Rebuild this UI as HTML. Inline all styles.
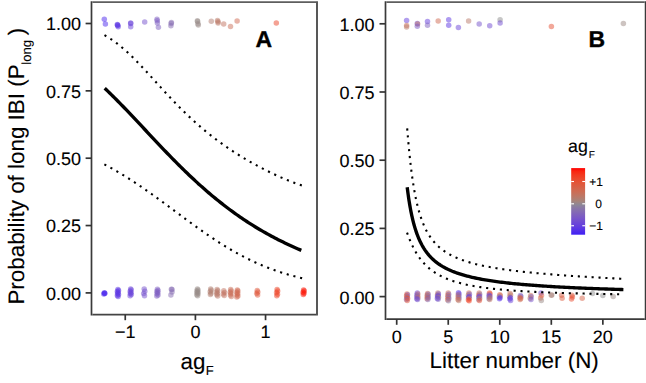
<!DOCTYPE html>
<html><head><meta charset="utf-8"><style>
html,body{margin:0;padding:0;background:#fff;width:646px;height:383px;overflow:hidden;position:relative;font-family:"Liberation Sans",sans-serif;}
svg text{font-family:"Liberation Sans",sans-serif;text-rendering:geometricPrecision;}
</style></head><body>
<svg width="646" height="383" viewBox="0 0 646 383" style="position:absolute;left:0;top:0">
<rect width="646" height="383" fill="#fff"/>
<circle cx="104.3" cy="19.3" r="2.75" fill="#4b28ee" fill-opacity="0.50"/>
<circle cx="105.4" cy="24.1" r="2.75" fill="#4c29ed" fill-opacity="0.50"/>
<circle cx="117.3" cy="24.4" r="2.75" fill="#5c36e4" fill-opacity="0.50"/>
<circle cx="118.2" cy="26.7" r="2.75" fill="#5d37e3" fill-opacity="0.50"/>
<circle cx="117.6" cy="25.5" r="2.75" fill="#5c37e4" fill-opacity="0.50"/>
<circle cx="130.7" cy="23.0" r="2.75" fill="#6a44d9" fill-opacity="0.50"/>
<circle cx="130.7" cy="26.7" r="2.75" fill="#6a44d9" fill-opacity="0.50"/>
<circle cx="144.7" cy="21.9" r="2.75" fill="#7551cd" fill-opacity="0.50"/>
<circle cx="157.0" cy="19.3" r="2.75" fill="#7d5dc1" fill-opacity="0.50"/>
<circle cx="157.4" cy="23.0" r="2.75" fill="#7d5ec1" fill-opacity="0.50"/>
<circle cx="158.4" cy="27.2" r="2.75" fill="#7e5fc0" fill-opacity="0.50"/>
<circle cx="171.4" cy="22.5" r="2.75" fill="#856cb2" fill-opacity="0.50"/>
<circle cx="170.9" cy="25.8" r="2.75" fill="#856cb3" fill-opacity="0.50"/>
<circle cx="197.4" cy="20.7" r="2.75" fill="#978b88" fill-opacity="0.50"/>
<circle cx="198.3" cy="24.9" r="2.75" fill="#998a86" fill-opacity="0.50"/>
<circle cx="211.3" cy="21.3" r="2.75" fill="#b27e71" fill-opacity="0.50"/>
<circle cx="217.5" cy="20.4" r="2.75" fill="#bb7968" fill-opacity="0.50"/>
<circle cx="218.1" cy="23.0" r="2.75" fill="#bb7968" fill-opacity="0.50"/>
<circle cx="223.7" cy="24.1" r="2.75" fill="#c27461" fill-opacity="0.50"/>
<circle cx="230.5" cy="26.5" r="2.75" fill="#c96f59" fill-opacity="0.50"/>
<circle cx="237.1" cy="21.0" r="2.75" fill="#cf6a52" fill-opacity="0.50"/>
<circle cx="276.3" cy="23.1" r="2.75" fill="#ec462a" fill-opacity="0.50"/>
<circle cx="157.2" cy="20.8" r="2.75" fill="#7d5ec1" fill-opacity="0.50"/>
<circle cx="171.2" cy="23.6" r="2.75" fill="#856cb2" fill-opacity="0.50"/>
<circle cx="197.6" cy="21.6" r="2.75" fill="#978b87" fill-opacity="0.50"/>
<circle cx="197.9" cy="23.8" r="2.75" fill="#988a87" fill-opacity="0.50"/>
<circle cx="117.7" cy="25.0" r="2.75" fill="#5d37e4" fill-opacity="0.50"/>
<circle cx="130.7" cy="23.5" r="2.75" fill="#6a44d9" fill-opacity="0.50"/>
<circle cx="218.0" cy="21.8" r="2.75" fill="#bb7968" fill-opacity="0.50"/>
<circle cx="104.3" cy="292.7" r="2.75" fill="#4b28ee" fill-opacity="0.50"/>
<circle cx="104.8" cy="293.3" r="2.75" fill="#4b28ee" fill-opacity="0.50"/>
<circle cx="103.8" cy="293.9" r="2.75" fill="#4b28ee" fill-opacity="0.50"/>
<circle cx="117.9" cy="289.6" r="2.75" fill="#5d37e3" fill-opacity="0.50"/>
<circle cx="118.5" cy="290.6" r="2.75" fill="#5d37e3" fill-opacity="0.50"/>
<circle cx="117.4" cy="291.5" r="2.75" fill="#5d37e3" fill-opacity="0.50"/>
<circle cx="118.2" cy="292.5" r="2.75" fill="#5d37e3" fill-opacity="0.50"/>
<circle cx="117.6" cy="293.5" r="2.75" fill="#5d37e3" fill-opacity="0.50"/>
<circle cx="118.5" cy="294.4" r="2.75" fill="#5d37e3" fill-opacity="0.50"/>
<circle cx="117.4" cy="295.4" r="2.75" fill="#5d37e3" fill-opacity="0.50"/>
<circle cx="118.1" cy="296.4" r="2.75" fill="#5d37e3" fill-opacity="0.50"/>
<circle cx="130.7" cy="288.9" r="2.75" fill="#6a44d9" fill-opacity="0.50"/>
<circle cx="131.2" cy="290.0" r="2.75" fill="#6a44d9" fill-opacity="0.50"/>
<circle cx="130.2" cy="291.2" r="2.75" fill="#6a44d9" fill-opacity="0.50"/>
<circle cx="131.0" cy="292.4" r="2.75" fill="#6a44d9" fill-opacity="0.50"/>
<circle cx="130.4" cy="293.5" r="2.75" fill="#6a44d9" fill-opacity="0.50"/>
<circle cx="131.3" cy="294.6" r="2.75" fill="#6a44d9" fill-opacity="0.50"/>
<circle cx="130.1" cy="295.8" r="2.75" fill="#6a44d9" fill-opacity="0.50"/>
<circle cx="144.2" cy="288.9" r="2.75" fill="#7551cd" fill-opacity="0.50"/>
<circle cx="144.8" cy="291.2" r="2.75" fill="#7551cd" fill-opacity="0.50"/>
<circle cx="143.7" cy="293.5" r="2.75" fill="#7551cd" fill-opacity="0.50"/>
<circle cx="144.5" cy="295.8" r="2.75" fill="#7551cd" fill-opacity="0.50"/>
<circle cx="157.4" cy="289.2" r="2.75" fill="#7d5ec1" fill-opacity="0.50"/>
<circle cx="158.0" cy="290.4" r="2.75" fill="#7d5ec1" fill-opacity="0.50"/>
<circle cx="156.9" cy="291.5" r="2.75" fill="#7d5ec1" fill-opacity="0.50"/>
<circle cx="157.8" cy="292.6" r="2.75" fill="#7d5ec1" fill-opacity="0.50"/>
<circle cx="157.1" cy="293.8" r="2.75" fill="#7d5ec1" fill-opacity="0.50"/>
<circle cx="158.0" cy="295.0" r="2.75" fill="#7d5ec1" fill-opacity="0.50"/>
<circle cx="156.8" cy="296.1" r="2.75" fill="#7d5ec1" fill-opacity="0.50"/>
<circle cx="171.4" cy="289.2" r="2.75" fill="#856cb2" fill-opacity="0.50"/>
<circle cx="172.0" cy="292.1" r="2.75" fill="#856cb2" fill-opacity="0.50"/>
<circle cx="170.9" cy="294.9" r="2.75" fill="#856cb2" fill-opacity="0.50"/>
<circle cx="197.4" cy="288.9" r="2.75" fill="#978b88" fill-opacity="0.50"/>
<circle cx="198.0" cy="289.9" r="2.75" fill="#978b88" fill-opacity="0.50"/>
<circle cx="196.9" cy="290.9" r="2.75" fill="#978b88" fill-opacity="0.50"/>
<circle cx="197.8" cy="291.9" r="2.75" fill="#978b88" fill-opacity="0.50"/>
<circle cx="197.1" cy="292.8" r="2.75" fill="#978b88" fill-opacity="0.50"/>
<circle cx="198.0" cy="293.8" r="2.75" fill="#978b88" fill-opacity="0.50"/>
<circle cx="196.8" cy="294.8" r="2.75" fill="#978b88" fill-opacity="0.50"/>
<circle cx="197.6" cy="295.8" r="2.75" fill="#978b88" fill-opacity="0.50"/>
<circle cx="210.7" cy="288.9" r="2.75" fill="#b17f71" fill-opacity="0.50"/>
<circle cx="211.2" cy="290.3" r="2.75" fill="#b17f71" fill-opacity="0.50"/>
<circle cx="210.2" cy="291.8" r="2.75" fill="#b17f71" fill-opacity="0.50"/>
<circle cx="211.0" cy="293.2" r="2.75" fill="#b17f71" fill-opacity="0.50"/>
<circle cx="210.4" cy="294.6" r="2.75" fill="#b17f71" fill-opacity="0.50"/>
<circle cx="217.1" cy="289.5" r="2.75" fill="#ba7a69" fill-opacity="0.50"/>
<circle cx="217.7" cy="290.8" r="2.75" fill="#ba7a69" fill-opacity="0.50"/>
<circle cx="216.6" cy="292.1" r="2.75" fill="#ba7a69" fill-opacity="0.50"/>
<circle cx="217.4" cy="293.5" r="2.75" fill="#ba7a69" fill-opacity="0.50"/>
<circle cx="216.8" cy="294.8" r="2.75" fill="#ba7a69" fill-opacity="0.50"/>
<circle cx="217.7" cy="296.1" r="2.75" fill="#ba7a69" fill-opacity="0.50"/>
<circle cx="223.8" cy="290.8" r="2.75" fill="#c27461" fill-opacity="0.50"/>
<circle cx="224.4" cy="292.4" r="2.75" fill="#c27461" fill-opacity="0.50"/>
<circle cx="223.3" cy="293.9" r="2.75" fill="#c27461" fill-opacity="0.50"/>
<circle cx="224.2" cy="295.5" r="2.75" fill="#c27461" fill-opacity="0.50"/>
<circle cx="230.7" cy="289.5" r="2.75" fill="#c96f59" fill-opacity="0.50"/>
<circle cx="231.2" cy="290.9" r="2.75" fill="#c96f59" fill-opacity="0.50"/>
<circle cx="230.2" cy="292.3" r="2.75" fill="#c96f59" fill-opacity="0.50"/>
<circle cx="231.0" cy="293.6" r="2.75" fill="#c96f59" fill-opacity="0.50"/>
<circle cx="230.4" cy="295.0" r="2.75" fill="#c96f59" fill-opacity="0.50"/>
<circle cx="231.3" cy="296.4" r="2.75" fill="#c96f59" fill-opacity="0.50"/>
<circle cx="237.3" cy="289.9" r="2.75" fill="#cf6a52" fill-opacity="0.50"/>
<circle cx="237.9" cy="291.1" r="2.75" fill="#cf6a52" fill-opacity="0.50"/>
<circle cx="236.8" cy="292.3" r="2.75" fill="#cf6a52" fill-opacity="0.50"/>
<circle cx="237.7" cy="293.5" r="2.75" fill="#cf6a52" fill-opacity="0.50"/>
<circle cx="237.0" cy="294.7" r="2.75" fill="#cf6a52" fill-opacity="0.50"/>
<circle cx="237.9" cy="295.9" r="2.75" fill="#cf6a52" fill-opacity="0.50"/>
<circle cx="236.8" cy="297.1" r="2.75" fill="#cf6a52" fill-opacity="0.50"/>
<circle cx="257.2" cy="290.5" r="2.75" fill="#df593d" fill-opacity="0.50"/>
<circle cx="257.8" cy="292.0" r="2.75" fill="#df593d" fill-opacity="0.50"/>
<circle cx="256.7" cy="293.4" r="2.75" fill="#df593d" fill-opacity="0.50"/>
<circle cx="257.6" cy="294.9" r="2.75" fill="#df593d" fill-opacity="0.50"/>
<circle cx="277.1" cy="289.5" r="2.75" fill="#ed4529" fill-opacity="0.50"/>
<circle cx="277.7" cy="291.1" r="2.75" fill="#ed4529" fill-opacity="0.50"/>
<circle cx="276.6" cy="292.6" r="2.75" fill="#ed4529" fill-opacity="0.50"/>
<circle cx="277.5" cy="294.2" r="2.75" fill="#ed4529" fill-opacity="0.50"/>
<circle cx="276.8" cy="295.8" r="2.75" fill="#ed4529" fill-opacity="0.50"/>
<circle cx="303.6" cy="290.0" r="2.75" fill="#fc1808" fill-opacity="0.50"/>
<circle cx="304.2" cy="291.1" r="2.75" fill="#fc1808" fill-opacity="0.50"/>
<circle cx="303.1" cy="292.2" r="2.75" fill="#fc1808" fill-opacity="0.50"/>
<circle cx="304.0" cy="293.3" r="2.75" fill="#fc1808" fill-opacity="0.50"/>
<circle cx="303.3" cy="294.4" r="2.75" fill="#fc1808" fill-opacity="0.50"/>
<circle cx="104.6" cy="293.4" r="2.75" fill="#4a28ee" fill-opacity="0.50"/>
<circle cx="172.0" cy="289.6" r="2.75" fill="#856cb3" fill-opacity="0.50"/>
<circle cx="406.6" cy="20.5" r="2.75" fill="#653edd" fill-opacity="0.50"/>
<circle cx="406.6" cy="25.5" r="2.75" fill="#c96f59" fill-opacity="0.50"/>
<circle cx="406.6" cy="27.0" r="2.75" fill="#b97a6a" fill-opacity="0.50"/>
<circle cx="417.3" cy="23.5" r="2.75" fill="#6b45d8" fill-opacity="0.50"/>
<circle cx="417.6" cy="23.9" r="2.75" fill="#c27561" fill-opacity="0.50"/>
<circle cx="417.3" cy="26.2" r="2.75" fill="#7b5ac5" fill-opacity="0.50"/>
<circle cx="427.5" cy="21.6" r="2.75" fill="#653edd" fill-opacity="0.50"/>
<circle cx="427.5" cy="25.3" r="2.75" fill="#7f61be" fill-opacity="0.50"/>
<circle cx="438.2" cy="21.1" r="2.75" fill="#d06a51" fill-opacity="0.50"/>
<circle cx="448.7" cy="19.7" r="2.75" fill="#5d37e3" fill-opacity="0.50"/>
<circle cx="448.7" cy="25.3" r="2.75" fill="#5d37e3" fill-opacity="0.50"/>
<circle cx="458.4" cy="27.6" r="2.75" fill="#6b45d8" fill-opacity="0.50"/>
<circle cx="468.6" cy="21.0" r="2.75" fill="#b97a6a" fill-opacity="0.50"/>
<circle cx="479.2" cy="23.9" r="2.75" fill="#7653cb" fill-opacity="0.50"/>
<circle cx="489.7" cy="25.8" r="2.75" fill="#714cd1" fill-opacity="0.50"/>
<circle cx="500.1" cy="19.7" r="2.75" fill="#8e8e8e" fill-opacity="0.50"/>
<circle cx="500.1" cy="23.0" r="2.75" fill="#714cd1" fill-opacity="0.50"/>
<circle cx="551.4" cy="26.6" r="2.75" fill="#e55135" fill-opacity="0.50"/>
<circle cx="623.4" cy="23.4" r="2.75" fill="#9b8984" fill-opacity="0.50"/>
<circle cx="407.0" cy="293.9" r="2.75" fill="#dc5e42" fill-opacity="0.50"/>
<circle cx="407.5" cy="294.8" r="2.75" fill="#7e5ec1" fill-opacity="0.50"/>
<circle cx="406.6" cy="295.8" r="2.75" fill="#e55235" fill-opacity="0.50"/>
<circle cx="407.3" cy="296.7" r="2.75" fill="#846bb4" fill-opacity="0.50"/>
<circle cx="406.7" cy="297.7" r="2.75" fill="#d76349" fill-opacity="0.50"/>
<circle cx="407.6" cy="298.6" r="2.75" fill="#e94c2f" fill-opacity="0.50"/>
<circle cx="406.5" cy="299.6" r="2.75" fill="#8164ba" fill-opacity="0.50"/>
<circle cx="407.2" cy="300.5" r="2.75" fill="#e0583c" fill-opacity="0.50"/>
<circle cx="417.3" cy="293.1" r="2.75" fill="#653fdd" fill-opacity="0.50"/>
<circle cx="417.8" cy="294.0" r="2.75" fill="#cc6d56" fill-opacity="0.50"/>
<circle cx="416.9" cy="295.0" r="2.75" fill="#704bd2" fill-opacity="0.50"/>
<circle cx="417.6" cy="295.9" r="2.75" fill="#be7765" fill-opacity="0.50"/>
<circle cx="417.0" cy="296.8" r="2.75" fill="#7a58c7" fill-opacity="0.50"/>
<circle cx="417.9" cy="297.7" r="2.75" fill="#c5725d" fill-opacity="0.50"/>
<circle cx="416.8" cy="298.7" r="2.75" fill="#6b45d8" fill-opacity="0.50"/>
<circle cx="417.5" cy="299.6" r="2.75" fill="#7552cc" fill-opacity="0.50"/>
<circle cx="427.6" cy="293.4" r="2.75" fill="#cc6d56" fill-opacity="0.50"/>
<circle cx="428.1" cy="294.3" r="2.75" fill="#8164ba" fill-opacity="0.50"/>
<circle cx="427.2" cy="295.2" r="2.75" fill="#d1684f" fill-opacity="0.50"/>
<circle cx="427.9" cy="296.1" r="2.75" fill="#8772ac" fill-opacity="0.50"/>
<circle cx="427.3" cy="296.9" r="2.75" fill="#c5725d" fill-opacity="0.50"/>
<circle cx="428.2" cy="297.8" r="2.75" fill="#7e5ec1" fill-opacity="0.50"/>
<circle cx="427.1" cy="298.7" r="2.75" fill="#d76349" fill-opacity="0.50"/>
<circle cx="427.8" cy="299.6" r="2.75" fill="#846bb4" fill-opacity="0.50"/>
<circle cx="437.9" cy="293.1" r="2.75" fill="#be7765" fill-opacity="0.50"/>
<circle cx="438.4" cy="294.0" r="2.75" fill="#6b45d8" fill-opacity="0.50"/>
<circle cx="437.5" cy="294.9" r="2.75" fill="#b67c6d" fill-opacity="0.50"/>
<circle cx="438.2" cy="295.8" r="2.75" fill="#5f39e2" fill-opacity="0.50"/>
<circle cx="437.6" cy="296.6" r="2.75" fill="#704bd2" fill-opacity="0.50"/>
<circle cx="438.5" cy="297.5" r="2.75" fill="#ad8175" fill-opacity="0.50"/>
<circle cx="437.4" cy="298.4" r="2.75" fill="#653fdd" fill-opacity="0.50"/>
<circle cx="438.1" cy="299.3" r="2.75" fill="#7e5ec1" fill-opacity="0.50"/>
<circle cx="448.2" cy="293.1" r="2.75" fill="#cc6d56" fill-opacity="0.50"/>
<circle cx="448.7" cy="294.2" r="2.75" fill="#7e5ec1" fill-opacity="0.50"/>
<circle cx="447.8" cy="295.3" r="2.75" fill="#d1684f" fill-opacity="0.50"/>
<circle cx="448.5" cy="296.4" r="2.75" fill="#846bb4" fill-opacity="0.50"/>
<circle cx="447.9" cy="297.5" r="2.75" fill="#c5725d" fill-opacity="0.50"/>
<circle cx="448.8" cy="298.6" r="2.75" fill="#8164ba" fill-opacity="0.50"/>
<circle cx="447.7" cy="299.7" r="2.75" fill="#dc5e42" fill-opacity="0.50"/>
<circle cx="448.4" cy="300.8" r="2.75" fill="#8a79a5" fill-opacity="0.50"/>
<circle cx="458.5" cy="292.8" r="2.75" fill="#5732e7" fill-opacity="0.50"/>
<circle cx="459.0" cy="293.9" r="2.75" fill="#653fdd" fill-opacity="0.50"/>
<circle cx="458.1" cy="295.0" r="2.75" fill="#be7765" fill-opacity="0.50"/>
<circle cx="458.8" cy="296.1" r="2.75" fill="#7e5ec1" fill-opacity="0.50"/>
<circle cx="458.2" cy="297.2" r="2.75" fill="#cc6d56" fill-opacity="0.50"/>
<circle cx="459.1" cy="298.3" r="2.75" fill="#846bb4" fill-opacity="0.50"/>
<circle cx="458.0" cy="299.4" r="2.75" fill="#d76349" fill-opacity="0.50"/>
<circle cx="458.7" cy="300.5" r="2.75" fill="#b67c6d" fill-opacity="0.50"/>
<circle cx="468.9" cy="293.1" r="2.75" fill="#cc6d56" fill-opacity="0.50"/>
<circle cx="469.4" cy="294.2" r="2.75" fill="#7552cc" fill-opacity="0.50"/>
<circle cx="468.4" cy="295.3" r="2.75" fill="#b67c6d" fill-opacity="0.50"/>
<circle cx="469.2" cy="296.4" r="2.75" fill="#5f39e2" fill-opacity="0.50"/>
<circle cx="468.6" cy="297.5" r="2.75" fill="#6b45d8" fill-opacity="0.50"/>
<circle cx="469.4" cy="298.6" r="2.75" fill="#c5725d" fill-opacity="0.50"/>
<circle cx="468.4" cy="299.7" r="2.75" fill="#e94c2f" fill-opacity="0.50"/>
<circle cx="469.1" cy="300.8" r="2.75" fill="#f13d22" fill-opacity="0.50"/>
<circle cx="479.2" cy="293.1" r="2.75" fill="#cc6d56" fill-opacity="0.50"/>
<circle cx="479.7" cy="294.2" r="2.75" fill="#8772ac" fill-opacity="0.50"/>
<circle cx="478.7" cy="295.2" r="2.75" fill="#d1684f" fill-opacity="0.50"/>
<circle cx="479.5" cy="296.3" r="2.75" fill="#653fdd" fill-opacity="0.50"/>
<circle cx="478.9" cy="297.3" r="2.75" fill="#704bd2" fill-opacity="0.50"/>
<circle cx="479.7" cy="298.4" r="2.75" fill="#c5725d" fill-opacity="0.50"/>
<circle cx="478.7" cy="299.4" r="2.75" fill="#8a79a5" fill-opacity="0.50"/>
<circle cx="479.4" cy="300.5" r="2.75" fill="#e55235" fill-opacity="0.50"/>
<circle cx="489.5" cy="293.1" r="2.75" fill="#ed4529" fill-opacity="0.50"/>
<circle cx="490.0" cy="294.0" r="2.75" fill="#e55235" fill-opacity="0.50"/>
<circle cx="489.0" cy="295.0" r="2.75" fill="#7e5ec1" fill-opacity="0.50"/>
<circle cx="489.8" cy="295.9" r="2.75" fill="#6b45d8" fill-opacity="0.50"/>
<circle cx="489.2" cy="296.8" r="2.75" fill="#7552cc" fill-opacity="0.50"/>
<circle cx="490.0" cy="297.7" r="2.75" fill="#c5725d" fill-opacity="0.50"/>
<circle cx="489.0" cy="298.7" r="2.75" fill="#8772ac" fill-opacity="0.50"/>
<circle cx="489.7" cy="299.6" r="2.75" fill="#be7765" fill-opacity="0.50"/>
<circle cx="499.8" cy="294.8" r="2.75" fill="#dc5e42" fill-opacity="0.50"/>
<circle cx="500.3" cy="295.8" r="2.75" fill="#cc6d56" fill-opacity="0.50"/>
<circle cx="499.3" cy="296.8" r="2.75" fill="#8a79a5" fill-opacity="0.50"/>
<circle cx="500.1" cy="297.8" r="2.75" fill="#5f39e2" fill-opacity="0.50"/>
<circle cx="499.5" cy="298.8" r="2.75" fill="#5732e7" fill-opacity="0.50"/>
<circle cx="510.1" cy="293.6" r="2.75" fill="#cc6d56" fill-opacity="0.50"/>
<circle cx="510.6" cy="295.0" r="2.75" fill="#be7765" fill-opacity="0.50"/>
<circle cx="509.6" cy="296.4" r="2.75" fill="#ad8175" fill-opacity="0.50"/>
<circle cx="510.4" cy="297.7" r="2.75" fill="#5732e7" fill-opacity="0.50"/>
<circle cx="509.8" cy="299.1" r="2.75" fill="#5f39e2" fill-opacity="0.50"/>
<circle cx="510.6" cy="300.5" r="2.75" fill="#6b45d8" fill-opacity="0.50"/>
<circle cx="520.4" cy="295.4" r="2.75" fill="#7a58c7" fill-opacity="0.50"/>
<circle cx="520.9" cy="296.4" r="2.75" fill="#8164ba" fill-opacity="0.50"/>
<circle cx="519.9" cy="297.5" r="2.75" fill="#d1684f" fill-opacity="0.50"/>
<circle cx="520.7" cy="298.6" r="2.75" fill="#dc5e42" fill-opacity="0.50"/>
<circle cx="520.1" cy="299.6" r="2.75" fill="#cc6d56" fill-opacity="0.50"/>
<circle cx="530.7" cy="295.4" r="2.75" fill="#cc6d56" fill-opacity="0.50"/>
<circle cx="531.2" cy="296.8" r="2.75" fill="#7e5ec1" fill-opacity="0.50"/>
<circle cx="530.2" cy="298.2" r="2.75" fill="#b67c6d" fill-opacity="0.50"/>
<circle cx="531.0" cy="299.6" r="2.75" fill="#7552cc" fill-opacity="0.50"/>
<circle cx="541.0" cy="293.1" r="2.75" fill="#6b45d8" fill-opacity="0.50"/>
<circle cx="541.5" cy="295.6" r="2.75" fill="#dc5e42" fill-opacity="0.50"/>
<circle cx="540.6" cy="298.0" r="2.75" fill="#d76349" fill-opacity="0.50"/>
<circle cx="541.3" cy="300.5" r="2.75" fill="#9a8a85" fill-opacity="0.50"/>
<circle cx="551.3" cy="295.2" r="2.75" fill="#b67c6d" fill-opacity="0.50"/>
<circle cx="551.8" cy="295.0" r="2.75" fill="#a2867f" fill-opacity="0.50"/>
<circle cx="561.6" cy="295.2" r="2.75" fill="#d76349" fill-opacity="0.50"/>
<circle cx="562.1" cy="298.2" r="2.75" fill="#dc5e42" fill-opacity="0.50"/>
<circle cx="571.9" cy="295.2" r="2.75" fill="#dc5e42" fill-opacity="0.50"/>
<circle cx="572.4" cy="297.1" r="2.75" fill="#e55235" fill-opacity="0.50"/>
<circle cx="571.5" cy="299.1" r="2.75" fill="#e94c2f" fill-opacity="0.50"/>
<circle cx="582.2" cy="298.3" r="2.75" fill="#d76349" fill-opacity="0.50"/>
<circle cx="592.5" cy="293.6" r="2.75" fill="#8e8e8e" fill-opacity="0.50"/>
<circle cx="602.8" cy="295.4" r="2.75" fill="#8e8e8e" fill-opacity="0.50"/>
<circle cx="613.2" cy="296.5" r="2.75" fill="#9a8a85" fill-opacity="0.50"/>
<path d="M104.70,88.20 L106.35,89.77 L108.00,91.36 L109.66,92.97 L111.31,94.59 L112.96,96.22 L114.61,97.87 L116.26,99.53 L117.92,101.20 L119.57,102.88 L121.22,104.58 L122.87,106.28 L124.53,107.99 L126.18,109.71 L127.83,111.44 L129.48,113.17 L131.13,114.92 L132.79,116.66 L134.44,118.42 L136.09,120.17 L137.74,121.93 L139.39,123.70 L141.05,125.46 L142.70,127.23 L144.35,129.00 L146.00,130.76 L147.65,132.53 L149.31,134.30 L150.96,136.06 L152.61,137.83 L154.26,139.58 L155.92,141.34 L157.57,143.09 L159.22,144.84 L160.87,146.58 L162.52,148.32 L164.18,150.05 L165.83,151.77 L167.48,153.48 L169.13,155.19 L170.78,156.89 L172.44,158.58 L174.09,160.26 L175.74,161.93 L177.39,163.59 L179.04,165.25 L180.70,166.89 L182.35,168.51 L184.00,170.13 L185.65,171.74 L187.31,173.33 L188.96,174.92 L190.61,176.48 L192.26,178.04 L193.91,179.58 L195.57,181.12 L197.22,182.63 L198.87,184.14 L200.52,185.63 L202.17,187.10 L203.83,188.56 L205.48,190.01 L207.13,191.44 L208.78,192.86 L210.43,194.27 L212.09,195.66 L213.74,197.03 L215.39,198.40 L217.04,199.74 L218.69,201.07 L220.35,202.39 L222.00,203.69 L223.65,204.98 L225.30,206.25 L226.96,207.51 L228.61,208.76 L230.26,209.98 L231.91,211.20 L233.56,212.40 L235.22,213.58 L236.87,214.76 L238.52,215.91 L240.17,217.06 L241.82,218.18 L243.48,219.30 L245.13,220.40 L246.78,221.49 L248.43,222.56 L250.08,223.62 L251.74,224.66 L253.39,225.70 L255.04,226.71 L256.69,227.72 L258.35,228.71 L260.00,229.69 L261.65,230.66 L263.30,231.61 L264.95,232.55 L266.61,233.48 L268.26,234.40 L269.91,235.30 L271.56,236.20 L273.21,237.08 L274.87,237.95 L276.52,238.80 L278.17,239.65 L279.82,240.48 L281.47,241.30 L283.13,242.12 L284.78,242.92 L286.43,243.71 L288.08,244.49 L289.74,245.25 L291.39,246.01 L293.04,246.76 L294.69,247.50 L296.34,248.22 L298.00,248.94 L299.65,249.65 L301.30,250.35" fill="none" stroke="#000" stroke-width="3.35" stroke-linecap="butt"/>
<path d="M105.40,35.71 L107.04,36.66 L108.68,37.66 L110.33,38.70 L111.97,39.80 L113.61,40.94 L115.25,42.12 L116.89,43.35 L118.54,44.63 L120.18,45.94 L121.82,47.31 L123.46,48.71 L125.10,50.15 L126.75,51.63 L128.39,53.15 L130.03,54.70 L131.67,56.28 L133.31,57.90 L134.96,59.54 L136.60,61.21 L138.24,62.90 L139.88,64.62 L141.52,66.35 L143.17,68.10 L144.81,69.87 L146.45,71.65 L148.09,73.44 L149.73,75.24 L151.38,77.05 L153.02,78.86 L154.66,80.67 L156.30,82.49 L157.94,84.30 L159.59,86.11 L161.23,87.91 L162.87,89.71 L164.51,91.50 L166.15,93.28 L167.80,95.05 L169.44,96.81 L171.08,98.56 L172.72,100.29 L174.36,102.01 L176.01,103.71 L177.65,105.40 L179.29,107.06 L180.93,108.71 L182.57,110.35 L184.22,111.96 L185.86,113.56 L187.50,115.13 L189.14,116.69 L190.78,118.23 L192.43,119.74 L194.07,121.24 L195.71,122.72 L197.35,124.18 L198.99,125.61 L200.64,127.03 L202.28,128.43 L203.92,129.81 L205.56,131.17 L207.21,132.51 L208.85,133.83 L210.49,135.14 L212.13,136.42 L213.77,137.69 L215.42,138.94 L217.06,140.17 L218.70,141.39 L220.34,142.59 L221.98,143.77 L223.63,144.94 L225.27,146.09 L226.91,147.22 L228.55,148.34 L230.19,149.45 L231.84,150.54 L233.48,151.61 L235.12,152.67 L236.76,153.72 L238.40,154.76 L240.05,155.78 L241.69,156.79 L243.33,157.78 L244.97,158.77 L246.61,159.74 L248.26,160.70 L249.90,161.64 L251.54,162.58 L253.18,163.50 L254.82,164.41 L256.47,165.31 L258.11,166.20 L259.75,167.07 L261.39,167.94 L263.03,168.79 L264.68,169.64 L266.32,170.47 L267.96,171.29 L269.60,172.09 L271.24,172.89 L272.89,173.68 L274.53,174.45 L276.17,175.21 L277.81,175.96 L279.45,176.70 L281.10,177.43 L282.74,178.14 L284.38,178.84 L286.02,179.53 L287.66,180.20 L289.31,180.87 L290.95,181.51 L292.59,182.15 L294.23,182.77 L295.87,183.37 L297.52,183.97 L299.16,184.54 L300.80,185.10 L301.37,185.30" fill="none" stroke="#000" stroke-width="2.10" stroke-linecap="square" stroke-dasharray="0.01 6.900"/>
<path d="M105.30,164.81 L106.95,165.69 L108.59,166.58 L110.24,167.49 L111.88,168.41 L113.53,169.34 L115.17,170.28 L116.82,171.24 L118.46,172.21 L120.11,173.19 L121.75,174.18 L123.40,175.19 L125.04,176.20 L126.69,177.23 L128.34,178.27 L129.98,179.32 L131.63,180.38 L133.27,181.45 L134.92,182.54 L136.56,183.63 L138.21,184.73 L139.85,185.84 L141.50,186.96 L143.14,188.09 L144.79,189.23 L146.43,190.38 L148.08,191.53 L149.73,192.70 L151.37,193.86 L153.02,195.04 L154.66,196.22 L156.31,197.41 L157.95,198.60 L159.60,199.80 L161.24,201.01 L162.89,202.21 L164.53,203.43 L166.18,204.64 L167.82,205.86 L169.47,207.08 L171.12,208.30 L172.76,209.52 L174.41,210.74 L176.05,211.97 L177.70,213.19 L179.34,214.42 L180.99,215.64 L182.63,216.86 L184.28,218.08 L185.92,219.29 L187.57,220.50 L189.21,221.71 L190.86,222.91 L192.51,224.11 L194.15,225.31 L195.80,226.50 L197.44,227.68 L199.09,228.85 L200.73,230.02 L202.38,231.18 L204.02,232.34 L205.67,233.48 L207.31,234.62 L208.96,235.74 L210.60,236.86 L212.25,237.97 L213.89,239.06 L215.54,240.15 L217.19,241.22 L218.83,242.28 L220.48,243.33 L222.12,244.37 L223.77,245.40 L225.41,246.41 L227.06,247.41 L228.70,248.40 L230.35,249.37 L231.99,250.34 L233.64,251.28 L235.28,252.21 L236.93,253.13 L238.58,254.04 L240.22,254.93 L241.87,255.80 L243.51,256.67 L245.16,257.51 L246.80,258.34 L248.45,259.16 L250.09,259.96 L251.74,260.75 L253.38,261.52 L255.03,262.28 L256.67,263.03 L258.32,263.75 L259.97,264.47 L261.61,265.17 L263.26,265.85 L264.90,266.52 L266.55,267.18 L268.19,267.82 L269.84,268.45 L271.48,269.06 L273.13,269.66 L274.77,270.25 L276.42,270.82 L278.06,271.38 L279.71,271.93 L281.36,272.46 L283.00,272.98 L284.65,273.49 L286.29,273.98 L287.94,274.46 L289.58,274.93 L291.23,275.39 L292.87,275.84 L294.52,276.27 L296.16,276.70 L297.81,277.11 L299.45,277.51 L301.10,277.90 L301.68,278.04" fill="none" stroke="#000" stroke-width="2.10" stroke-linecap="square" stroke-dasharray="0.01 6.889"/>
<path d="M407.20,187.20 L407.46,189.29 L407.72,191.31 L407.98,193.25 L408.23,195.13 L408.49,196.94 L408.75,198.70 L409.01,200.39 L409.27,202.03 L409.53,203.61 L409.79,205.14 L410.04,206.63 L410.30,208.06 L410.56,209.46 L410.82,210.81 L411.08,212.12 L411.34,213.39 L411.59,214.62 L411.85,215.82 L412.11,216.98 L412.37,218.11 L412.63,219.21 L412.89,220.28 L413.15,221.32 L413.40,222.33 L413.66,223.32 L413.92,224.27 L414.18,225.21 L414.44,226.12 L414.70,227.00 L414.96,227.87 L415.21,228.71 L415.47,229.53 L415.73,230.33 L415.99,231.11 L416.25,231.88 L416.51,232.62 L416.76,233.35 L417.02,234.06 L417.28,234.76 L417.54,235.44 L417.80,236.10 L418.06,236.75 L418.32,237.39 L418.57,238.01 L418.83,238.62 L419.09,239.21 L419.35,239.80 L419.61,240.37 L419.87,240.93 L420.13,241.48 L420.38,242.01 L420.64,242.54 L420.90,243.05 L421.16,243.56 L421.42,244.05 L421.68,244.54 L421.94,245.02 L422.19,245.49 L422.45,245.95 L422.71,246.40 L422.97,246.84 L423.23,247.27 L423.49,247.70 L423.74,248.12 L424.00,248.53 L424.26,248.93 L424.52,249.33 L424.78,249.72 L425.04,250.11 L425.30,250.48 L425.55,250.85 L425.81,251.22 L426.07,251.58 L426.33,251.93 L426.59,252.28 L426.85,252.62 L427.11,252.95 L427.36,253.28 L427.62,253.61 L429.27,255.56 L430.91,257.34 L432.56,258.96 L434.20,260.45 L435.85,261.82 L437.49,263.08 L439.14,264.25 L440.78,265.34 L442.43,266.35 L444.07,267.30 L445.72,268.18 L447.36,269.01 L449.01,269.79 L450.66,270.52 L452.30,271.22 L453.95,271.87 L455.59,272.49 L457.24,273.08 L458.88,273.64 L460.53,274.17 L462.17,274.68 L463.82,275.16 L465.46,275.62 L467.11,276.06 L468.75,276.48 L470.40,276.89 L472.04,277.27 L473.69,277.65 L475.33,278.00 L476.98,278.34 L478.62,278.67 L480.27,278.99 L481.91,279.30 L483.56,279.59 L485.20,279.88 L486.85,280.15 L488.49,280.42 L490.14,280.67 L491.78,280.92 L493.43,281.16 L495.08,281.40 L496.72,281.62 L498.37,281.84 L500.01,282.05 L501.66,282.26 L503.30,282.46 L504.95,282.66 L506.59,282.84 L508.24,283.03 L509.88,283.21 L511.53,283.38 L513.17,283.55 L514.82,283.72 L516.46,283.88 L518.11,284.03 L519.75,284.19 L521.40,284.34 L523.04,284.48 L524.69,284.62 L526.33,284.76 L527.98,284.90 L529.62,285.03 L531.27,285.16 L532.91,285.29 L534.56,285.41 L536.20,285.53 L537.85,285.65 L539.50,285.76 L541.14,285.88 L542.79,285.99 L544.43,286.10 L546.08,286.20 L547.72,286.31 L549.37,286.41 L551.01,286.51 L552.66,286.61 L554.30,286.71 L555.95,286.80 L557.59,286.89 L559.24,286.98 L560.88,287.07 L562.53,287.16 L564.17,287.25 L565.82,287.33 L567.46,287.41 L569.11,287.50 L570.75,287.58 L572.40,287.65 L574.04,287.73 L575.69,287.81 L577.33,287.88 L578.98,287.96 L580.63,288.03 L582.27,288.10 L583.92,288.17 L585.56,288.24 L587.21,288.31 L588.85,288.37 L590.50,288.44 L592.14,288.50 L593.79,288.57 L595.43,288.63 L597.08,288.69 L598.72,288.75 L600.37,288.81 L602.01,288.87 L603.66,288.93 L605.30,288.98 L606.95,289.04 L608.59,289.10 L610.24,289.15 L611.88,289.21 L613.53,289.26 L615.17,289.31 L616.82,289.36 L618.46,289.41 L620.11,289.46 L621.75,289.51 L623.40,289.56" fill="none" stroke="#000" stroke-width="3.35" stroke-linecap="butt"/>
<path d="M407.27,129.50 L407.53,132.67 L407.79,135.77 L408.04,138.78 L408.30,141.70 L408.56,144.55 L408.82,147.31 L409.07,149.99 L409.33,152.60 L409.59,155.13 L409.85,157.59 L410.10,159.97 L410.36,162.28 L410.62,164.53 L410.88,166.71 L411.13,168.83 L411.39,170.88 L411.65,172.87 L411.91,174.81 L412.16,176.69 L412.42,178.51 L412.68,180.28 L412.94,182.00 L413.20,183.68 L413.45,185.30 L413.71,186.88 L413.97,188.41 L414.23,189.90 L414.48,191.35 L414.74,192.76 L415.00,194.14 L415.26,195.47 L415.51,196.77 L415.77,198.03 L416.03,199.26 L416.29,200.46 L416.54,201.63 L416.80,202.77 L417.06,203.87 L417.32,204.95 L417.58,206.01 L417.83,207.03 L418.09,208.03 L418.35,209.01 L418.61,209.96 L418.86,210.89 L419.12,211.80 L419.38,212.69 L419.64,213.55 L419.89,214.40 L420.15,215.22 L420.41,216.03 L420.67,216.81 L420.92,217.58 L421.18,218.34 L421.44,219.07 L421.70,219.79 L421.95,220.50 L422.21,221.19 L422.47,221.86 L422.73,222.52 L422.99,223.17 L423.24,223.80 L423.50,224.42 L423.76,225.03 L424.02,225.62 L424.27,226.21 L424.53,226.78 L424.79,227.34 L425.05,227.89 L425.30,228.43 L425.56,228.95 L425.82,229.47 L426.08,229.98 L426.33,230.48 L426.59,230.97 L426.85,231.45 L427.11,231.92 L427.36,232.38 L427.62,232.84 L429.24,235.51 L430.86,237.91 L432.48,240.08 L434.10,242.04 L435.71,243.83 L437.33,245.46 L438.95,246.96 L440.57,248.35 L442.19,249.62 L443.81,250.81 L445.42,251.91 L447.04,252.93 L448.66,253.89 L450.28,254.79 L451.90,255.64 L453.52,256.43 L455.13,257.18 L456.75,257.89 L458.37,258.56 L459.99,259.20 L461.61,259.81 L463.23,260.38 L464.84,260.93 L466.46,261.45 L468.08,261.95 L469.70,262.43 L471.32,262.89 L472.93,263.33 L474.55,263.75 L476.17,264.16 L477.79,264.55 L479.41,264.93 L481.03,265.29 L482.64,265.64 L484.26,265.98 L485.88,266.31 L487.50,266.62 L489.12,266.93 L490.74,267.23 L492.35,267.51 L493.97,267.79 L495.59,268.07 L497.21,268.33 L498.83,268.59 L500.45,268.84 L502.06,269.08 L503.68,269.32 L505.30,269.55 L506.92,269.77 L508.54,269.99 L510.16,270.21 L511.77,270.42 L513.39,270.62 L515.01,270.82 L516.63,271.02 L518.25,271.21 L519.87,271.39 L521.48,271.58 L523.10,271.76 L524.72,271.93 L526.34,272.10 L527.96,272.27 L529.58,272.44 L531.19,272.60 L532.81,272.76 L534.43,272.92 L536.05,273.07 L537.67,273.22 L539.29,273.37 L540.90,273.52 L542.52,273.66 L544.14,273.80 L545.76,273.94 L547.38,274.08 L548.99,274.21 L550.61,274.35 L552.23,274.48 L553.85,274.61 L555.47,274.73 L557.09,274.86 L558.70,274.98 L560.32,275.10 L561.94,275.22 L563.56,275.34 L565.18,275.46 L566.80,275.57 L568.41,275.68 L570.03,275.80 L571.65,275.91 L573.27,276.02 L574.89,276.12 L576.51,276.23 L578.12,276.33 L579.74,276.44 L581.36,276.54 L582.98,276.64 L584.60,276.74 L586.22,276.84 L587.83,276.94 L589.45,277.03 L591.07,277.13 L592.69,277.22 L594.31,277.32 L595.93,277.41 L597.54,277.50 L599.16,277.59 L600.78,277.68 L602.40,277.77 L604.02,277.86 L605.64,277.94 L607.25,278.03 L608.87,278.12 L610.49,278.20 L612.11,278.28 L613.73,278.37 L615.35,278.45 L616.96,278.53 L618.58,278.61 L620.20,278.69 L620.80,278.72" fill="none" stroke="#000" stroke-width="2.10" stroke-linecap="square" stroke-dasharray="0.01 6.891"/>
<path d="M407.40,233.67 L407.66,234.36 L407.91,235.06 L408.17,235.74 L408.42,236.41 L408.68,237.07 L408.94,237.73 L409.19,238.37 L409.45,239.01 L409.70,239.64 L409.96,240.26 L410.22,240.87 L410.47,241.47 L410.73,242.06 L410.98,242.64 L411.24,243.22 L411.50,243.78 L411.75,244.34 L412.01,244.89 L412.26,245.43 L412.52,245.97 L412.78,246.49 L413.03,247.01 L413.29,247.52 L413.54,248.02 L413.80,248.52 L414.06,249.00 L414.31,249.48 L414.57,249.96 L414.82,250.42 L415.08,250.88 L415.34,251.33 L415.59,251.78 L415.85,252.22 L416.10,252.65 L416.36,253.08 L416.62,253.50 L416.87,253.91 L417.13,254.32 L417.38,254.72 L417.64,255.12 L417.90,255.51 L418.15,255.89 L418.41,256.27 L418.66,256.64 L418.92,257.01 L419.18,257.38 L419.43,257.73 L419.69,258.09 L419.94,258.44 L420.20,258.78 L420.46,259.12 L420.71,259.45 L420.97,259.78 L421.22,260.11 L421.48,260.43 L421.73,260.74 L421.99,261.06 L422.25,261.36 L422.50,261.67 L422.76,261.97 L423.01,262.26 L423.27,262.55 L423.53,262.84 L423.78,263.13 L424.04,263.41 L424.29,263.68 L424.55,263.96 L424.81,264.23 L425.06,264.49 L425.32,264.76 L425.57,265.02 L425.83,265.27 L426.09,265.52 L426.34,265.77 L426.60,266.02 L426.85,266.26 L427.11,266.50 L427.37,266.74 L427.62,266.98 L429.22,268.38 L430.82,269.68 L432.42,270.89 L434.03,272.02 L435.63,273.07 L437.23,274.05 L438.83,274.96 L440.43,275.82 L442.03,276.63 L443.63,277.39 L445.23,278.10 L446.83,278.78 L448.43,279.41 L450.03,280.01 L451.63,280.58 L453.23,281.11 L454.83,281.62 L456.43,282.10 L458.03,282.56 L459.64,283.00 L461.24,283.41 L462.84,283.81 L464.44,284.19 L466.04,284.54 L467.64,284.89 L469.24,285.22 L470.84,285.53 L472.44,285.83 L474.04,286.12 L475.64,286.39 L477.24,286.65 L478.84,286.91 L480.44,287.15 L482.04,287.38 L483.65,287.61 L485.25,287.82 L486.85,288.03 L488.45,288.23 L490.05,288.43 L491.65,288.61 L493.25,288.79 L494.85,288.96 L496.45,289.13 L498.05,289.29 L499.65,289.45 L501.25,289.60 L502.85,289.74 L504.45,289.88 L506.05,290.02 L507.66,290.15 L509.26,290.28 L510.86,290.40 L512.46,290.52 L514.06,290.64 L515.66,290.75 L517.26,290.86 L518.86,290.97 L520.46,291.07 L522.06,291.17 L523.66,291.27 L525.26,291.36 L526.86,291.45 L528.46,291.54 L530.06,291.63 L531.66,291.71 L533.27,291.80 L534.87,291.88 L536.47,291.95 L538.07,292.03 L539.67,292.10 L541.27,292.18 L542.87,292.25 L544.47,292.31 L546.07,292.38 L547.67,292.45 L549.27,292.51 L550.87,292.57 L552.47,292.63 L554.07,292.69 L555.67,292.75 L557.28,292.81 L558.88,292.86 L560.48,292.91 L562.08,292.97 L563.68,293.02 L565.28,293.07 L566.88,293.12 L568.48,293.17 L570.08,293.21 L571.68,293.26 L573.28,293.30 L574.88,293.35 L576.48,293.39 L578.08,293.43 L579.68,293.47 L581.29,293.52 L582.89,293.55 L584.49,293.59 L586.09,293.63 L587.69,293.67 L589.29,293.71 L590.89,293.74 L592.49,293.78 L594.09,293.81 L595.69,293.84 L597.29,293.88 L598.89,293.91 L600.49,293.94 L602.09,293.97 L603.69,294.00 L605.29,294.03 L606.90,294.06 L608.50,294.09 L610.10,294.12 L611.70,294.15 L613.30,294.18 L614.90,294.20 L616.50,294.23 L618.10,294.26 L618.70,294.27" fill="none" stroke="#000" stroke-width="2.10" stroke-linecap="square" stroke-dasharray="0.01 6.892"/>
<path d="M91.50 1.20V315.50" stroke="#3a3a3a" stroke-width="1.7" fill="none"/>
<path d="M317.00 1.20V315.50" stroke="#3a3a3a" stroke-width="1.7" fill="none"/>
<path d="M92.35 2.05H316.15" stroke="#5e5e5e" stroke-width="1.7" fill="none"/>
<path d="M92.35 314.65H316.15" stroke="#444444" stroke-width="1.7" fill="none"/>
<path d="M385.50 1.20V320.05" stroke="#3a3a3a" stroke-width="1.7" fill="none"/>
<path d="M645.60 1.20V320.05" stroke="#3a3a3a" stroke-width="1.7" fill="none"/>
<path d="M386.35 2.05H644.75" stroke="#5e5e5e" stroke-width="1.7" fill="none"/>
<path d="M386.35 319.20H644.75" stroke="#3a3a3a" stroke-width="1.7" fill="none"/>
<line x1="85.6" x2="91.50" y1="292.90" y2="292.90" stroke="#333333" stroke-width="1.7"/>
<line x1="379.5" x2="385.50" y1="296.60" y2="296.60" stroke="#333333" stroke-width="1.7"/>
<line x1="85.6" x2="91.50" y1="225.55" y2="225.55" stroke="#333333" stroke-width="1.7"/>
<line x1="379.5" x2="385.50" y1="228.40" y2="228.40" stroke="#333333" stroke-width="1.7"/>
<line x1="85.6" x2="91.50" y1="158.20" y2="158.20" stroke="#333333" stroke-width="1.7"/>
<line x1="379.5" x2="385.50" y1="160.20" y2="160.20" stroke="#333333" stroke-width="1.7"/>
<line x1="85.6" x2="91.50" y1="90.85" y2="90.85" stroke="#333333" stroke-width="1.7"/>
<line x1="379.5" x2="385.50" y1="92.00" y2="92.00" stroke="#333333" stroke-width="1.7"/>
<line x1="85.6" x2="91.50" y1="23.50" y2="23.50" stroke="#333333" stroke-width="1.7"/>
<line x1="379.5" x2="385.50" y1="23.80" y2="23.80" stroke="#333333" stroke-width="1.7"/>
<line x1="125.25" x2="125.25" y1="314.65" y2="320.2" stroke="#333333" stroke-width="1.7"/>
<line x1="195.40" x2="195.40" y1="314.65" y2="320.2" stroke="#333333" stroke-width="1.7"/>
<line x1="265.55" x2="265.55" y1="314.65" y2="320.2" stroke="#333333" stroke-width="1.7"/>
<line x1="396.70" x2="396.70" y1="319.20" y2="324.8" stroke="#333333" stroke-width="1.7"/>
<line x1="448.24" x2="448.24" y1="319.20" y2="324.8" stroke="#333333" stroke-width="1.7"/>
<line x1="499.77" x2="499.77" y1="319.20" y2="324.8" stroke="#333333" stroke-width="1.7"/>
<line x1="551.31" x2="551.31" y1="319.20" y2="324.8" stroke="#333333" stroke-width="1.7"/>
<line x1="602.85" x2="602.85" y1="319.20" y2="324.8" stroke="#333333" stroke-width="1.7"/>
<text x="81.00" y="299.80" font-size="18.00" text-anchor="end" fill="#000" stroke="#000" stroke-width="0.12">0.00</text>
<text x="374.50" y="303.50" font-size="18.00" text-anchor="end" fill="#000" stroke="#000" stroke-width="0.12">0.00</text>
<text x="81.00" y="232.45" font-size="18.00" text-anchor="end" fill="#000" stroke="#000" stroke-width="0.12">0.25</text>
<text x="374.50" y="235.30" font-size="18.00" text-anchor="end" fill="#000" stroke="#000" stroke-width="0.12">0.25</text>
<text x="81.00" y="165.10" font-size="18.00" text-anchor="end" fill="#000" stroke="#000" stroke-width="0.12">0.50</text>
<text x="374.50" y="167.10" font-size="18.00" text-anchor="end" fill="#000" stroke="#000" stroke-width="0.12">0.50</text>
<text x="81.00" y="97.75" font-size="18.00" text-anchor="end" fill="#000" stroke="#000" stroke-width="0.12">0.75</text>
<text x="374.50" y="98.90" font-size="18.00" text-anchor="end" fill="#000" stroke="#000" stroke-width="0.12">0.75</text>
<text x="81.00" y="30.40" font-size="18.00" text-anchor="end" fill="#000" stroke="#000" stroke-width="0.12">1.00</text>
<text x="374.50" y="30.70" font-size="18.00" text-anchor="end" fill="#000" stroke="#000" stroke-width="0.12">1.00</text>
<text x="125.25" y="338.40" font-size="18.00" text-anchor="middle" fill="#000" stroke="#000" stroke-width="0.12">−1</text>
<text x="195.40" y="338.40" font-size="18.00" text-anchor="middle" fill="#000" stroke="#000" stroke-width="0.12">0</text>
<text x="265.55" y="338.40" font-size="18.00" text-anchor="middle" fill="#000" stroke="#000" stroke-width="0.12">1</text>
<text x="396.70" y="343.30" font-size="18.00" text-anchor="middle" fill="#000" stroke="#000" stroke-width="0.12">0</text>
<text x="448.24" y="343.30" font-size="18.00" text-anchor="middle" fill="#000" stroke="#000" stroke-width="0.12">5</text>
<text x="499.77" y="343.30" font-size="18.00" text-anchor="middle" fill="#000" stroke="#000" stroke-width="0.12">10</text>
<text x="551.31" y="343.30" font-size="18.00" text-anchor="middle" fill="#000" stroke="#000" stroke-width="0.12">15</text>
<text x="602.85" y="343.30" font-size="18.00" text-anchor="middle" fill="#000" stroke="#000" stroke-width="0.12">20</text>
<text x="180.50" y="368.80" font-size="22.40" fill="#000" stroke="#000" stroke-width="0.12">ag</text>
<text x="205.70" y="374.60" font-size="13.00" fill="#000" stroke="#000" stroke-width="0.12">F</text>
<text x="429.60" y="368.20" font-size="22.40" fill="#000" stroke="#000" stroke-width="0.12">Litter number (N)</text>
<g transform="translate(23.6,304.6) rotate(-90)"><text x="0.00" y="0.00" font-size="22.40" fill="#000" stroke="#000" stroke-width="0.12">Probability of long IBI (P</text><text x="239.80" y="7.30" font-size="13.20" fill="#000" stroke="#000" stroke-width="0.12">long</text><text x="269.45" y="0.00" font-size="22.40" fill="#000" stroke="#000" stroke-width="0.12">)</text></g>
<text x="255.60" y="47.00" font-size="23.00" font-weight="bold" fill="#000" stroke="#000" stroke-width="0.35">A</text>
<text x="588.60" y="47.00" font-size="23.00" font-weight="bold" fill="#000" stroke="#000" stroke-width="0.35">B</text>
<defs><linearGradient id="lg" x1="0" y1="1" x2="0" y2="0">
<stop offset="0.000" stop-color="#3e1ff4"/>
<stop offset="0.050" stop-color="#502ceb"/>
<stop offset="0.100" stop-color="#5d38e3"/>
<stop offset="0.150" stop-color="#6842da"/>
<stop offset="0.200" stop-color="#714cd1"/>
<stop offset="0.250" stop-color="#7957c8"/>
<stop offset="0.300" stop-color="#7f61bd"/>
<stop offset="0.350" stop-color="#856cb2"/>
<stop offset="0.400" stop-color="#8978a6"/>
<stop offset="0.450" stop-color="#8d8796"/>
<stop offset="0.500" stop-color="#a4857d"/>
<stop offset="0.550" stop-color="#b57c6e"/>
<stop offset="0.600" stop-color="#c27460"/>
<stop offset="0.650" stop-color="#cd6c54"/>
<stop offset="0.700" stop-color="#d66349"/>
<stop offset="0.750" stop-color="#de5a3e"/>
<stop offset="0.800" stop-color="#e65134"/>
<stop offset="0.850" stop-color="#ed4529"/>
<stop offset="0.900" stop-color="#f3381e"/>
<stop offset="0.950" stop-color="#f92611"/>
<stop offset="1.000" stop-color="#ff0000"/>
</linearGradient></defs>
<rect x="571.2" y="168.1" width="13.9" height="66.6" fill="url(#lg)"/>
<line x1="571.2" x2="574.0" y1="181.50" y2="181.50" stroke="#fff" stroke-width="1.1"/>
<line x1="582.3" x2="585.1" y1="181.50" y2="181.50" stroke="#fff" stroke-width="1.1"/>
<line x1="571.2" x2="574.0" y1="203.80" y2="203.80" stroke="#fff" stroke-width="1.1"/>
<line x1="582.3" x2="585.1" y1="203.80" y2="203.80" stroke="#fff" stroke-width="1.1"/>
<line x1="571.2" x2="574.0" y1="225.75" y2="225.75" stroke="#fff" stroke-width="1.1"/>
<line x1="582.3" x2="585.1" y1="225.75" y2="225.75" stroke="#fff" stroke-width="1.1"/>
<text x="568.00" y="151.50" font-size="17.80" fill="#000" stroke="#000" stroke-width="0.12">ag</text>
<text x="588.80" y="158.20" font-size="10.00" fill="#000" stroke="#000" stroke-width="0.12">F</text>
<text x="589.20" y="186.00" font-size="12.00" fill="#000" stroke="#000" stroke-width="0.12">+1</text>
<text x="595.20" y="208.30" font-size="12.00" fill="#000" stroke="#000" stroke-width="0.12">0</text>
<text x="589.20" y="230.30" font-size="12.00" fill="#000" stroke="#000" stroke-width="0.12">−1</text>
</svg>
</body></html>
